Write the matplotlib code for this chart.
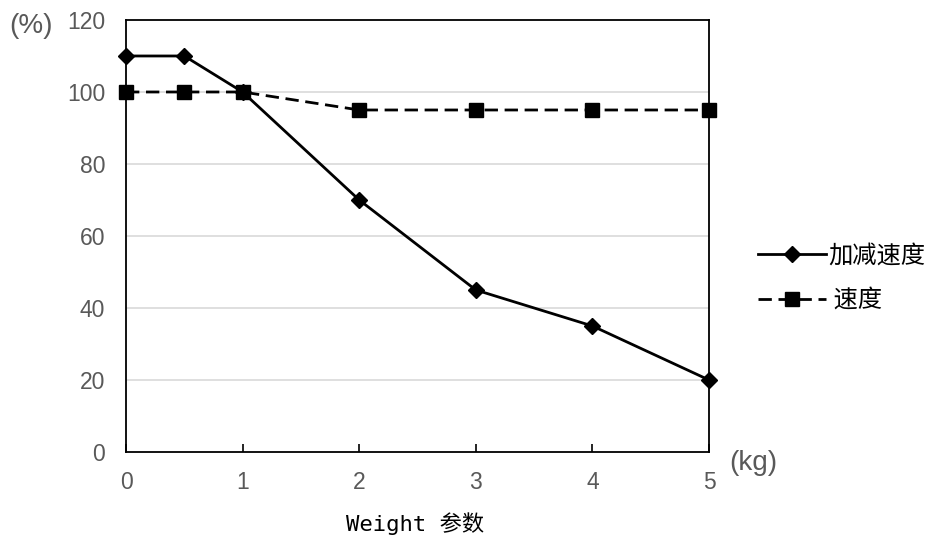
import matplotlib
matplotlib.use('Agg')
import matplotlib.pyplot as plt

plt.rcParams['font.family'] = ['Liberation Sans', 'Noto Sans CJK SC', 'DejaVu Sans']

# data
weight = [0, 0.5, 1, 2, 3, 4, 5]
accel = [110, 110, 100, 70, 45, 35, 20]      # 加减速度
speed = [100, 100, 100, 95, 95, 95, 95]      # 速度
x_ticks = [0, 1, 2, 3, 4, 5]
y_ticks = [0, 20, 40, 60, 80, 100, 120]

fig = plt.figure(figsize=(9.46, 5.43), dpi=100)
ax = fig.add_axes([0.1332, 0.1676, 0.6163, 0.7956])

for y in y_ticks[1:-1]:
    ax.axhline(y, color='#d9d9d9', lw=1.2, zorder=0)

ax.plot(weight, accel, color='black', lw=2.0, marker='D', ms=8.5,
        clip_on=False, zorder=3, label='加减速度')
ax.plot(weight, speed, color='black', lw=2.0, ls=(0, (4.8, 2.4)), marker='s', ms=10,
        clip_on=False, zorder=3, label=' 速度')

ax.set_xlim(0, 5)
ax.set_ylim(0, 120)
ax.set_xticks(x_ticks)
ax.set_yticks(y_ticks)
ax.tick_params(axis='x', direction='in', length=6, width=1.2, colors='black',
               labelcolor='#595959', labelsize=16.5, pad=14)
ax.tick_params(axis='y', length=0, labelcolor='#595959', labelsize=16.5, pad=15)
for s in ax.spines.values():
    s.set_linewidth(1.3)
    s.set_color('black')

fig.text(0.010, 0.953, '(%)', fontsize=20, color='#595959', va='center')
fig.text(0.771, 0.147, '(kg)', fontsize=20, color='#595959', va='center')
fig.text(0.366, 0.035, 'Weight 参数', color='black', va='center',
         family=['DejaVu Sans Mono', 'Noto Sans CJK SC'], fontsize=16)

leg = ax.legend(loc='center left', bbox_to_anchor=(1.046, 0.403), frameon=False,
                handlelength=2.8, handletextpad=0.1, labelspacing=0.75,
                prop={'family': ['Noto Sans CJK SC', 'DejaVu Sans'], 'size': 17.5})

fig.savefig('out.png', dpi=100)
